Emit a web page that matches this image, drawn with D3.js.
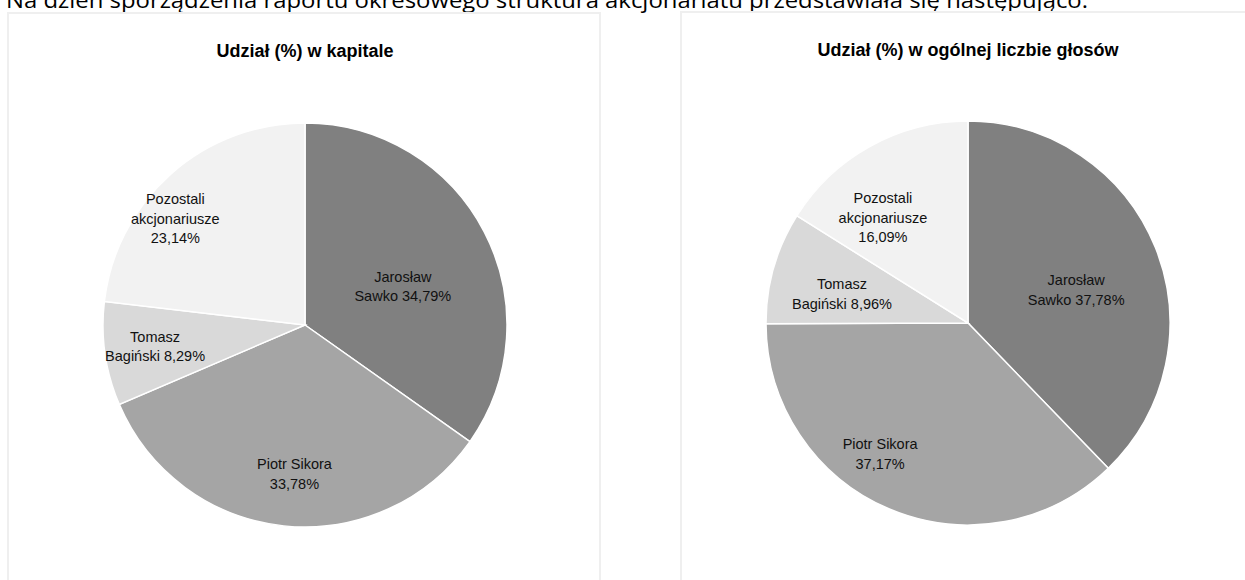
<!DOCTYPE html>
<html>
<head>
<meta charset="utf-8">
<script src="https://cdn.jsdelivr.net/npm/d3@7"></script>
<style>
	body { margin: 0; background: #fff; }
	svg { display: block; }
	.lbl { font-family: 'Liberation Sans Narrow', 'Arial Narrow', 'Liberation Sans', sans-serif; font-stretch: condensed; }
</style>
</head>
<body>
<div id="chart"></div>
<script>
const width = 1245;
const height = 580;

// Data ===========================================================
const shareholders = [
	['Jarosław', 'Sawko'],
	['Piotr Sikora'],
	['Tomasz', 'Bagiński'],
	['Pozostali', 'akcjonariusze'],
];
const capitalShare = [34.79, 33.78, 8.29, 23.14];
const votesShare = [37.78, 37.17, 8.96, 16.09];
const titles = ['Udział (%) w kapitale', 'Udział (%) w ogólnej liczbie głosów'];
const headline = 'Na dzień sporządzenia raportu okresowego struktura akcjonariatu przedstawiała się następująco:';
// whether the value sits on the last name line or on its own line
const valueInline = [true, false, true, false];
const sliceColors = ['#808080', '#a5a5a5', '#d9d9d9', '#f2f2f2'];

// label placement per chart: [radius fraction, angle nudge in degrees]
const labelPlacement = [
	[[0.52, 6], [0.74, -2], [0.75, 0], [0.83, -9]],
	[[0.56, 5], [0.78, 11], [0.64, -3], [0.67, -10]],
];
//================================================================

const svg = d3.select('#chart').append('svg').attr('width', width).attr('height', height);

svg.append('text')
	.attr('x', 6)
	.attr('y', 8)
	.attr('textLength', 1082)
	.attr('lengthAdjust', 'spacingAndGlyphs')
	.style('font-family', "'Open Sans', 'Noto Sans', sans-serif")
	.style('font-size', '21px')
	.style('fill', '#000')
	.text(headline);

const panels = [
	{ x: 8, y: 13, w: 592, cx: 305, cy: 325, values: capitalShare },
	{ x: 681, y: 12, w: 600, cx: 968, cy: 323, values: votesShare },
];

const radius = 202;
const pie = d3.pie().sort(null).value((d) => d);
const arc = d3.arc().innerRadius(0).outerRadius(radius);

const fmt = (v) => v.toFixed(2).replace('.', ',') + '%';

panels.forEach((p, pi) => {
	// panel frame (no bottom edge visible)
	svg.append('path')
		.attr('d', `M${p.x},${height + 5}V${p.y}H${p.x + p.w}V${height + 5}`)
		.attr('fill', 'none')
		.attr('stroke', '#efefef')
		.attr('stroke-width', 2);

	svg.append('text')
		.attr('class', 'lbl')
		.attr('x', p.cx)
		.attr('y', p.y + 44)
		.attr('text-anchor', 'middle')
		.style('font-size', '18px')
		.style('font-weight', 'bold')
		.style('fill', '#000')
		.text(titles[pi]);

	const g = svg.append('g').attr('transform', `translate(${p.cx},${p.cy})`);
	const arcs = pie(p.values);

	g.selectAll('path')
		.data(arcs)
		.join('path')
		.attr('d', arc)
		.attr('fill', (d, i) => sliceColors[i])
		.attr('stroke', '#fff')
		.attr('stroke-width', 1.5);

	g.selectAll('text')
		.data(arcs)
		.join('text')
		.attr('class', 'lbl')
		.attr('text-anchor', 'middle')
		.style('font-size', '14.5px')
		.style('fill', '#111')
		.each(function (d, i) {
			const [frac, nudge] = labelPlacement[pi][i];
			const a = (d.startAngle + d.endAngle) / 2 + (nudge * Math.PI) / 180;
			const r = radius * frac;
			const x = r * Math.sin(a);
			const y = -r * Math.cos(a);
			const lines = shareholders[i].slice();
			if (valueInline[i]) lines[lines.length - 1] += ' ' + fmt(d.data);
			else lines.push(fmt(d.data));
			const lh = 19.5;
			const y0 = y - ((lines.length - 1) * lh) / 2 + 5;
			const t = d3.select(this);
			lines.forEach((ln, k) => {
				t.append('tspan').attr('x', x).attr('y', y0 + k * lh).text(ln);
			});
		});
});
</script>
</body>
</html>
